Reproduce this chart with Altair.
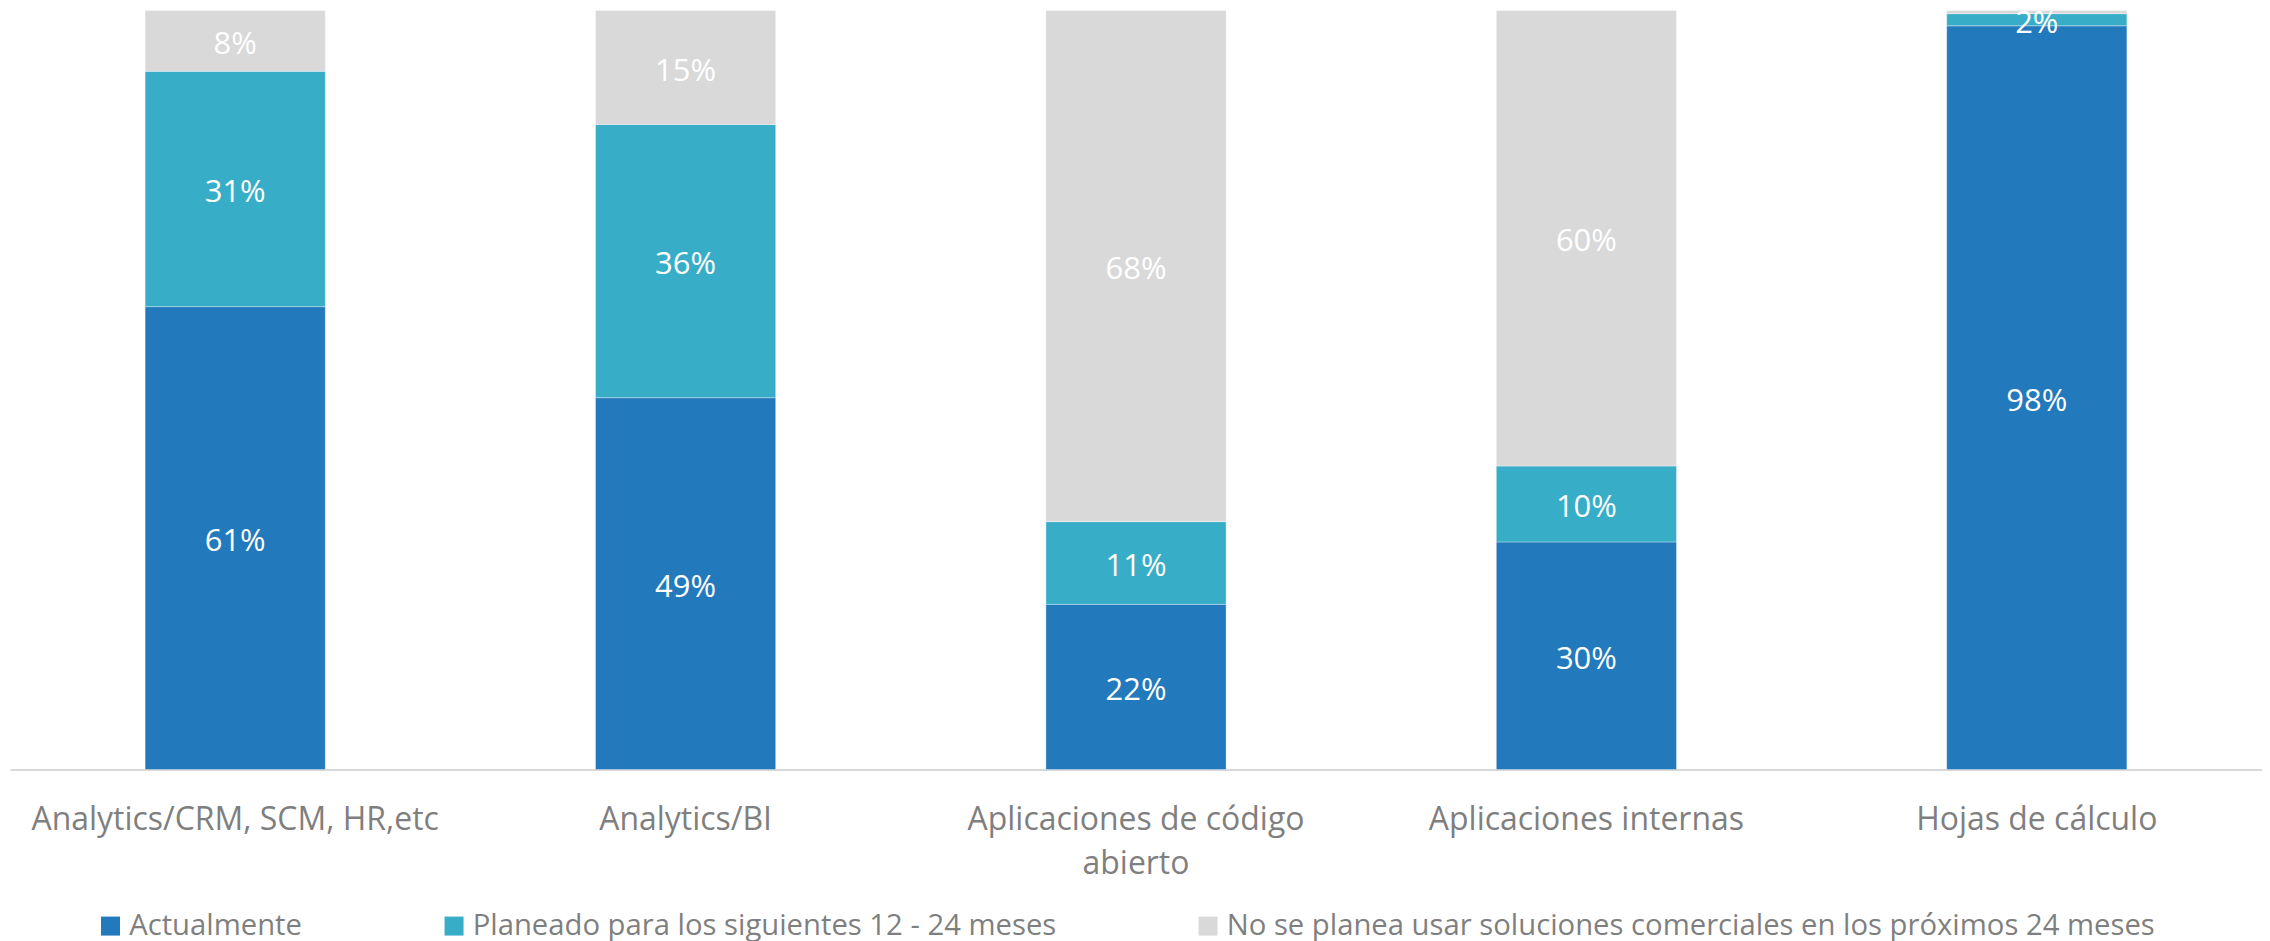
import altair as alt
import pandas as pd

categories = [
    "Analytics/CRM, SCM, HR,etc",
    "Analytics/BI",
    "Aplicaciones de código abierto",
    "Aplicaciones internas",
    "Hojas de cálculo",
]
series = [
    "Actualmente",
    "Planeado para los siguientes 12 - 24 meses",
    "No se planea usar soluciones comerciales en los próximos 24 meses",
]
actualmente = [61, 49, 22, 30, 98]
planeado = [31, 36, 11, 10, 1.6]
no_planea = [8, 15, 68, 60, 0.4]
colors = ["#2279BB", "#37ADC8", "#D9D9D9"]

rows = []
for vals, s_i in ((actualmente, 0), (planeado, 1), (no_planea, 2)):
    for c, v in zip(categories, vals):
        rows.append({"cat": c, "serie": series[s_i], "ord": s_i, "value": v})
df = pd.DataFrame(rows)

FONT = "Open Sans"

x = alt.X(
    "cat:N",
    sort=categories,
    title=None,
    scale=alt.Scale(paddingInner=0.6, paddingOuter=0.3),
    axis=alt.Axis(
        labelAngle=0,
        labelFont=FONT,
        labelFontSize=32,
        labelColor="#7F7F7F",
        labelPadding=35,
        labelLineHeight=44,
        labelLimit=600,
        ticks=False,
        domainColor="#D9D9D9",
        domainWidth=2,
        labelExpr="datum.label == 'Aplicaciones de código abierto' ? ['Aplicaciones de código', 'abierto'] : datum.label",
    ),
)

bars = alt.Chart(df).mark_bar(stroke="white", strokeWidth=1, strokeOpacity=0.35).encode(
    x=x,
    y=alt.Y("value:Q", stack="normalize", axis=None, scale=alt.Scale(domain=[0, 1])),
    color=alt.Color(
        "serie:N",
        scale=alt.Scale(domain=series, range=colors),
        legend=alt.Legend(
            title=None,
            orient="none",
            legendX=86,
            legendY=902,
            direction="horizontal",
            columns=3,
            columnPadding=137,
            symbolType="square",
            symbolSize=361,
            symbolStrokeWidth=0,
            labelFont=FONT,
            labelFontSize=29.3,
            labelColor="#7F7F7F",
            labelOffset=4,
            labelLimit=1200,
            padding=0,
        ),
    ),
    order=alt.Order("ord:Q", sort="ascending"),
)

labels = (
    alt.Chart(df)
    .transform_joinaggregate(total="sum(value)", groupby=["cat"])
    .transform_window(cum="sum(value)", groupby=["cat"], sort=[alt.SortField("ord")], frame=[None, 0])
    .transform_calculate(mid="(datum.cum - datum.value / 2) / datum.total",
                         txt="format(datum.value, '.0f') + '%'")
    .transform_filter("datum.value >= 1")
    .mark_text(font=FONT, fontSize=31, color="white", baseline="middle", align="center", dy=4)
    .encode(
        x=x,
        y=alt.Y("mid:Q", axis=None, scale=alt.Scale(domain=[0, 1])),
        text="txt:N",
    )
)

chart = (
    alt.layer(bars, labels)
    .properties(
        width=2255,
        height=760,
        autosize=alt.AutoSizeParams(type="none"),
        padding={"left": 2, "top": 2, "right": 0, "bottom": 179},
        background="white",
    )
    .configure_view(stroke=None)
)

chart.save("out.html", embed_options={"renderer": "svg", "actions": False})
